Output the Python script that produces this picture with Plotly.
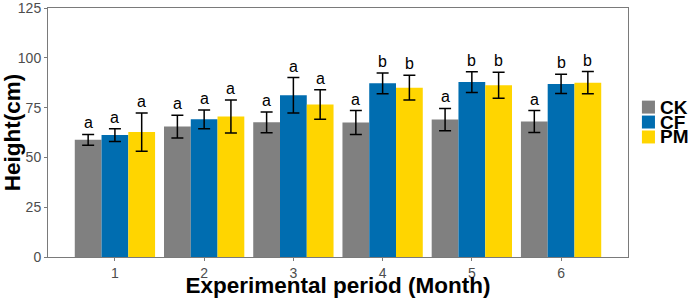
import plotly.graph_objects as go

months = [1, 2, 3, 4, 5, 6]
tick_labels = ["1", "2", "3", "4", "5", "6"]
series_names = ["CK", "CF", "PM"]
colors = ["#808080", "#006DB0", "#FFD500"]

ck_mean = [58.8, 65.5, 67.6, 67.5, 69.0, 68.0]
ck_err = [2.7, 5.7, 5.2, 6.0, 5.6, 5.5]
cf_mean = [61.2, 69.1, 81.2, 87.2, 87.8, 86.9]
cf_err = [3.2, 4.7, 8.9, 5.2, 5.2, 4.8]
pm_mean = [62.7, 70.5, 76.6, 85.0, 86.2, 87.5]
pm_err = [9.6, 8.3, 7.4, 6.2, 6.5, 5.6]

ck_letters = ["a", "a", "a", "a", "a", "a"]
cf_letters = ["a", "a", "a", "b", "b", "b"]
pm_letters = ["a", "a", "a", "b", "b", "b"]

means = [ck_mean, cf_mean, pm_mean]
errs = [ck_err, cf_err, pm_err]
letters = [ck_letters, cf_letters, pm_letters]

FONT = "Arial, Liberation Sans, sans-serif"
AXIS_GREY = "#7a7a7a"

fig = go.Figure()
for name, color, m, e in zip(series_names, colors, means, errs):
    fig.add_trace(go.Bar(
        x=months, y=m, name=name, marker=dict(color=color, line=dict(width=0)),
        error_y=dict(type="data", array=e, visible=True, color="black", thickness=1.5, width=6),
        showlegend=False,
    ))

bargap = 0.1
n = len(series_names)
bw = (1 - bargap) / n
annotations = []
for k in range(n):
    off = (k - (n - 1) / 2) * bw
    for i, mo in enumerate(months):
        annotations.append(dict(
            x=mo + off, y=means[k][i] + errs[k][i], xref="x", yref="y",
            text=letters[k][i], showarrow=False, yanchor="bottom", yshift=1,
            font=dict(family=FONT, size=16, color="black"),
        ))

# manual legend (compact spacing)
shapes = []
leg_y = [0.602, 0.542, 0.482]
for name, color, yc in zip(series_names, colors, leg_y):
    shapes.append(dict(type="rect", xref="paper", yref="paper",
                       x0=1.024, x1=1.0465, y0=yc - 0.026, y1=yc + 0.026,
                       fillcolor=color, line=dict(width=0)))
    annotations.append(dict(x=1.051, y=yc, xref="paper", yref="paper", text="<b>%s</b>" % name,
                            showarrow=False, xanchor="left", yanchor="middle",
                            font=dict(family=FONT, size=19, color="black")))

fig.update_layout(
    width=692, height=298,
    margin=dict(l=48, r=64, t=8, b=41),
    paper_bgcolor="white", plot_bgcolor="white",
    barmode="group", bargap=bargap, bargroupgap=0,
    annotations=annotations, shapes=shapes,
    font=dict(family=FONT),
)
fig.update_xaxes(
    range=[0.25, 6.75], tickmode="array", tickvals=months, ticktext=tick_labels,
    showline=True, linecolor=AXIS_GREY, linewidth=1, mirror=True,
    ticks="outside", ticklen=3, tickcolor=AXIS_GREY, showgrid=False, zeroline=False,
    tickfont=dict(family=FONT, size=14, color="#4d4d4d"), automargin=False,
    ticklabeloverflow="allow",
    title=dict(text="<b>Experimental period (Month)</b>", font=dict(family=FONT, size=22.5, color="black"), standoff=1),
)
fig.update_yaxes(
    range=[0, 125], tickvals=[0, 25, 50, 75, 100, 125],
    showline=True, linecolor=AXIS_GREY, linewidth=1, mirror=True,
    ticks="outside", ticklen=3, tickcolor=AXIS_GREY, showgrid=False, zeroline=False,
    tickfont=dict(family=FONT, size=14, color="#4d4d4d"), automargin=False,
    ticklabeloverflow="allow",
    title=dict(text="<b>Height(cm)</b>", font=dict(family=FONT, size=22.5, color="black"), standoff=4),
)

fig.write_html("out.html", config={"displayModeBar": False},
               post_script="document.body.style.margin='0px';document.body.style.overflow='hidden';")
